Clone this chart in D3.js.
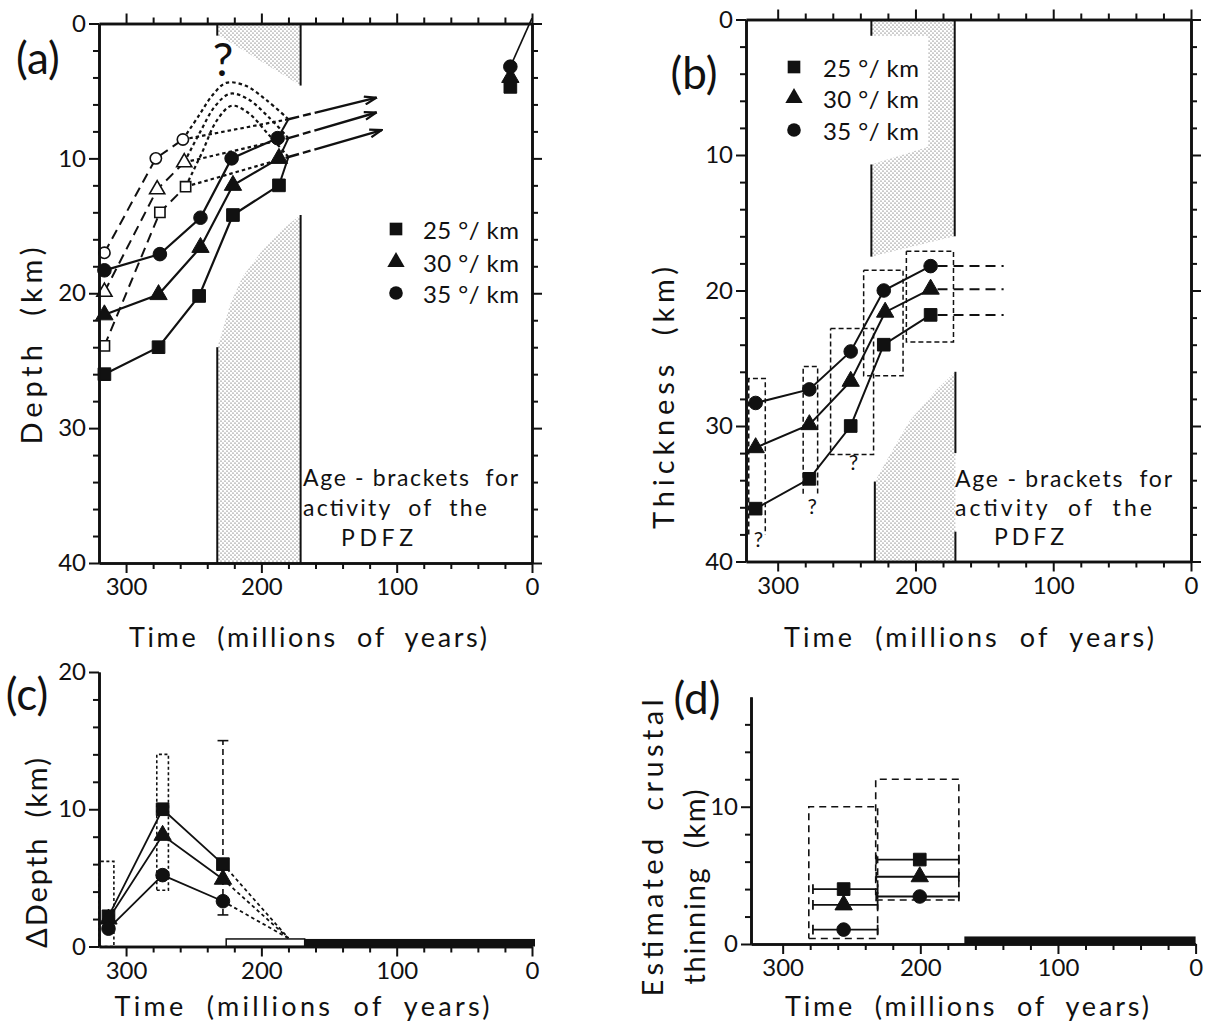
<!DOCTYPE html>
<html>
<head>
<meta charset="utf-8">
<script src="https://cdn.jsdelivr.net/npm/d3@7/dist/d3.min.js"></script>
<style>
  body { margin: 0; background: #fff; }
  svg text { font-family: Lato, "DejaVu Sans", sans-serif; fill: #111; }
</style>
</head>
<body>
<svg id="main" width="1208" height="1026"></svg>
<script>
// ---- data: [time (Ma), km] ----
const legendLabels = ["25 °/ km", "30 °/ km", "35 °/ km"];
const ageText = ["Age - brackets  for", "activity  of  the", "PDFZ"];
const timeTicks = [0, 100, 200, 300];

// (a) depth
const aSq25 = [[316, 26.0], [276, 24.0], [246, 20.2], [221, 14.2], [187, 12.0]];
const aTri30 = [[316, 21.6], [276, 20.1], [245, 16.6], [221, 12.0], [187, 10.0]];
const aCir35 = [[316, 18.3], [275, 17.1], [245, 14.4], [222, 10.0], [188, 8.5]];
const aOpenSq = [[316, 23.9], [275, 14.0], [256, 12.1]];
const aOpenTri = [[316, 19.9], [277, 12.3], [257, 10.3]];
const aOpenCir = [[316, 17.0], [278, 10.0], [258, 8.6]];
const aArrowFrom = [[180, 9.9], [180, 8.5], [180, 7.1]];   // sq, tri, cir
const aArrowTo = [[111, 7.9], [115, 6.6], [115, 5.5]];
const aCurveSq = [[256, 12.1], [244, 9.6], [233, 7.2], [222, 6.1], [210, 6.6], [195, 8.2], [180, 9.9]];
const aCurveTri = [[257, 10.3], [245, 8.0], [234, 6.1], [223, 5.2], [210, 5.6], [195, 6.9], [180, 8.5]];
const aCurveCir = [[258, 8.6], [246, 6.8], [236, 5.3], [226, 4.4], [212, 4.6], [196, 5.7], [180, 7.1]];
const aNowSq = [[16, 4.7]], aNowTri = [[16, 4.0]], aNowCir = [[16, 3.2]];
const aNowLine = [[16, 3.2], [0, -0.4]];
const aStippleTop = [[232.6, 0], [171, 0], [171, 4.6], [231, 0.9], [232.6, 0.9]];
const aStippleBot = [[171, 14.2], [185, 15.3], [200, 16.9], [214, 18.8], [223, 20.8], [230, 23.2], [232.6, 24], [232.6, 40], [171, 40]];
const aEdges = [[[232.6, 0], [232.6, 0.9]], [[171, 0], [171, 4.6]], [[232.6, 24], [232.6, 40]], [[171, 14.2], [171, 40]]];

// (b) thickness
const bSq25 = [[316, 36.1], [277, 33.9], [247, 30.0], [223, 24.0], [189, 21.8]];
const bTri30 = [[316, 31.6], [277, 29.9], [247, 26.7], [222, 21.6], [189, 19.9]];
const bCir35 = [[316, 28.3], [277, 27.3], [247, 24.5], [223, 20.0], [189, 18.2]];
const bExtendTo = 136;
const bBoxes = [[321, 309, 26.5, 38], [281.5, 271, 25.6, 35], [261.6, 230.4, 22.8, 32.1], [237.6, 209, 18.5, 26.3], [206.6, 172.4, 17.1, 23.8]];
const bBoxOpen = [true, true, false, false, false];
const bQuery = [[314, 38.3], [275, 35.9], [245, 32.6]];
const bStippleTop = [[232, 0], [171.5, 0], [171.5, 16.0], [232, 17.5], [232, 10.7], [190.7, 9.4], [190.7, 1.2], [232, 1.2]];
const bStippleBot = [[229.5, 40], [229.5, 34.1], [215, 31.5], [204, 29.6], [184.5, 27.3], [171, 26], [171, 40]];
const bEdges = [[[232, 0], [232, 1.2]], [[232, 10.7], [232, 17.5]], [[171.5, 0], [171.5, 16]], [[229.5, 34.1], [229.5, 40]], [[171, 26], [171, 32]], [[171, 37.8], [171, 40]]];

// (c) delta depth
const cSq25 = [[313, 2.2], [273, 10.0], [228.4, 6.0]];
const cTri30 = [[313, 2.0], [273, 8.1], [228.4, 4.9]];
const cCir35 = [[313, 1.3], [273, 5.2], [228.4, 3.3]];
const cConverge = [180, 0.6];
const cBoxes = [[320, 309, 0, 6.2], [277.3, 268.7, 4.1, 14.0]];
const cErr = [228.4, 2.3, 15.0];
const cBarOpen = [226, 168], cBarSolid = [168, 0], cBarH = 0.55;

// (d) crustal thinning
const dSq25 = [[255.7, 4.0], [200.4, 6.15]];
const dTri30 = [[255.7, 2.85], [200.4, 4.9]];
const dCir35 = [[255.7, 1.05], [200.4, 3.46]];
const dSpans = [[278, 231], [232, 172]];
const dBoxes = [[281, 231, 0.4, 10], [232.4, 172, 3.2, 12]];
const dBarSolid = [168, 0], dBarH = 0.55;

const svg = d3.select("#main");
const defs = svg.append("defs");
const pat = defs.append("pattern").attr("id", "dots")
  .attr("width", 4).attr("height", 4).attr("patternUnits", "userSpaceOnUse");
pat.append("circle").attr("cx", 1).attr("cy", 1).attr("r", 0.6).attr("fill", "#333");
pat.append("circle").attr("cx", 3).attr("cy", 3).attr("r", 0.6).attr("fill", "#333");
defs.append("marker").attr("id", "arrow")
  .attr("viewBox", "0 0 14 10").attr("refX", 13).attr("refY", 5)
  .attr("markerWidth", 14).attr("markerHeight", 10)
  .attr("markerUnits", "userSpaceOnUse").attr("orient", "auto")
  .append("path").attr("d", "M1,1 L13,5 L1,9")
  .attr("fill", "none").attr("stroke", "#111").attr("stroke-width", 2.2);

const sym = {
  sq: d3.symbol().type(d3.symbolSquare).size(160),
  tri: d3.symbol().type(d3.symbolTriangle).size(130),
  cir: d3.symbol().type(d3.symbolCircle).size(145),
  osq: d3.symbol().type(d3.symbolSquare).size(105),
  otri: d3.symbol().type(d3.symbolTriangle).size(100),
  ocir: d3.symbol().type(d3.symbolCircle).size(100)
};

function marks(g, data, x, y, kind) {
  const open = kind[0] == "o";
  g.selectAll(null).data(data).enter().append("path")
    .attr("d", sym[kind])
    .attr("transform", d => `translate(${x(d[0])},${y(d[1])})`)
    .attr("fill", open ? "#fff" : "#111")
    .attr("stroke", "#111").attr("stroke-width", open ? 1.6 : 1);
}

function line(g, pts, x, y, w, dash, curve) {
  const gen = d3.line().x(d => x(d[0])).y(d => y(d[1]));
  if (curve) gen.curve(curve);
  return g.append("path").attr("d", gen(pts))
    .attr("fill", "none").attr("stroke", "#111")
    .attr("stroke-width", w).attr("stroke-dasharray", dash);
}

function box(g, b, x, y, w, dash, open) {
  const [t0, t1, k0, k1] = b;
  const pts = open ? [[t0, k1], [t0, k0], [t1, k0], [t1, k1]]
                   : [[t0, k0], [t1, k0], [t1, k1], [t0, k1], [t0, k0]];
  line(g, pts, x, y, w, dash);
}

function stipple(g, pts, x, y) {
  g.append("path").attr("d", d3.line().x(d => x(d[0])).y(d => y(d[1]))(pts) + "Z")
    .attr("fill", "url(#dots)").attr("stroke", "none");
}

function axes(g, x, y, yMax, boxed) {
  const tMax = x.domain()[0];
  const tMinor = d3.range(20, tMax - 5, 20).filter(t => t % 100);
  const kMinor = d3.range(2, yMax, 2).filter(k => k % 10);
  const kMajor = d3.range(0, yMax + 0.5, 10);
  const yBottom = boxed ? y(yMax) : y(0);
  const put = (axis, tr) => {
    const a = g.append("g").attr("transform", tr).call(axis)
      .attr("font-family", null).attr("font-size", 24);
    a.selectAll("path").attr("stroke-width", 2.6).attr("stroke", "#111");
    a.selectAll("line").attr("stroke-width", 2).attr("stroke", "#111");
    return a;
  };
  const minorX = s => s.tickValues(tMinor).tickSize(6).tickSizeOuter(0).tickFormat("");
  const majorX = s => s.tickValues(timeTicks).tickSize(10).tickSizeOuter(0);
  const minorY = s => s.tickValues(kMinor).tickSize(6).tickSizeOuter(0).tickFormat("");
  const majorY = s => s.tickValues(kMajor).tickSize(10).tickSizeOuter(0);
  put(minorX(d3.axisBottom(x)), `translate(0,${yBottom})`);
  put(majorX(d3.axisBottom(x)).tickPadding(5), `translate(0,${yBottom})`);
  put(minorY(d3.axisLeft(y)), `translate(${x.range()[0]},0)`);
  put(majorY(d3.axisLeft(y)).tickPadding(3), `translate(${x.range()[0]},0)`);
  if (boxed) {
    put(minorX(d3.axisTop(x)), `translate(0,${y(0)})`);
    put(majorX(d3.axisTop(x)).tickFormat(""), `translate(0,${y(0)})`);
    put(minorY(d3.axisRight(y)), `translate(${x(0)},0)`);
    put(majorY(d3.axisRight(y)).tickFormat(""), `translate(${x(0)},0)`);
  }
}

function text(g, str, px, py, size, opt) {
  opt = opt || {};
  const t = g.append("text").text(str)
    .attr("font-size", size).attr("text-anchor", opt.anchor || "start")
    .attr("dominant-baseline", "central").style("white-space", "pre");
  if (opt.rotate) t.attr("transform", `translate(${px},${py}) rotate(-90)`);
  else t.attr("x", px).attr("y", py);
  if (opt.len) t.attr("textLength", opt.len).attr("lengthAdjust", "spacing");
  return t;
}

function legend(g, lx, tx, rows) {
  ["sq", "tri", "cir"].forEach((k, i) => {
    g.append("path").attr("d", sym[k]).attr("transform", `translate(${lx},${rows[i]})`).attr("fill", "#111");
    text(g, legendLabels[i], tx, rows[i], 24, {len: 96});
  });
}

// ================= (a) =================
const gA = svg.append("g");
const xA = d3.scaleLinear().domain([320, 0]).range([99, 532]);
const yA = d3.scaleLinear().domain([0, 40]).range([23.5, 563]);
stipple(gA, aStippleTop, xA, yA);
stipple(gA, aStippleBot, xA, yA);
aEdges.forEach(e => line(gA, e, xA, yA, 2));

[aOpenSq, aOpenTri, aOpenCir].forEach(s => line(gA, s, xA, yA, 2, "10,6"));
[aCurveSq, aCurveTri, aCurveCir].forEach(s => line(gA, s, xA, yA, 2.2, "3.5,3", d3.curveCatmullRom));
[aOpenSq, aOpenTri, aOpenCir].forEach((s, i) => line(gA, [s[2], aArrowFrom[i]], xA, yA, 2.2, "3.5,3"));
[aSq25, aTri30, aCir35].forEach((s, i) => {
  line(gA, s, xA, yA, 2.2);
  line(gA, [s[s.length - 1], aArrowFrom[i]], xA, yA, 2);
  line(gA, [aArrowFrom[i], aArrowTo[i]], xA, yA, 2.4, "11,4,8,4,400").attr("marker-end", "url(#arrow)");
});
line(gA, aNowLine, xA, yA, 1.6);
marks(gA, aOpenSq, xA, yA, "osq");
marks(gA, aOpenTri, xA, yA, "otri");
marks(gA, aOpenCir, xA, yA, "ocir");
marks(gA, aSq25, xA, yA, "sq");
marks(gA, aTri30, xA, yA, "tri");
marks(gA, aCir35, xA, yA, "cir");
marks(gA, aNowSq, xA, yA, "sq");
marks(gA, aNowTri, xA, yA, "tri");
marks(gA, aNowCir, xA, yA, "cir");
axes(gA, xA, yA, 40, true);

text(gA, "?", 223, 58, 46, {anchor: "middle"});
legend(gA, 396, 423, [229, 262, 293]);
ageText.forEach((s, i) => text(gA, s, i == 2 ? 341 : 303, 477 + i * 30, 23, {len: [215, 184, 72][i]}));
text(gA, "(a)", 38, 57, 44, {anchor: "middle"});
text(gA, "Time  (millions  of  years)", 308, 636, 27, {anchor: "middle", len: 358});
text(gA, "Depth  (km)", 30, 346, 29, {anchor: "middle", rotate: true, len: 197});

// ================= (b) =================
const gB = svg.append("g");
const xB = d3.scaleLinear().domain([323, 0]).range([746, 1191]);
const yB = d3.scaleLinear().domain([0, 40]).range([19.5, 561.5]);
stipple(gB, bStippleTop, xB, yB);
stipple(gB, bStippleBot, xB, yB);
bEdges.forEach(e => line(gB, e, xB, yB, 2));
bBoxes.forEach((b, i) => box(gB, b, xB, yB, 1.5, "5,3", bBoxOpen[i]));
[bSq25, bTri30, bCir35].forEach(s => {
  line(gB, s, xB, yB, 2);
  const last = s[s.length - 1];
  line(gB, [[last[0] - 5, last[1]], [bExtendTo, last[1]]], xB, yB, 2, "10,6");
});
marks(gB, bSq25, xB, yB, "sq");
marks(gB, bTri30, xB, yB, "tri");
marks(gB, bCir35, xB, yB, "cir");
axes(gB, xB, yB, 40, true);
bQuery.forEach(q => text(gB, "?", xB(q[0]), yB(q[1]), 21, {anchor: "middle"}));

legend(gB, 794, 823, [67, 98, 130]);
ageText.forEach((s, i) => text(gB, s, i == 2 ? 994 : 955, 478 + i * 29, 23, {len: [217, 197, 70][i]}));
text(gB, "(b)", 694, 72, 44, {anchor: "middle"});
text(gB, "Time  (millions  of  years)", 969, 636, 27, {anchor: "middle", len: 370});
text(gB, "Thickness  (km)", 662, 398, 29, {anchor: "middle", rotate: true, len: 262});

// ================= (c) =================
const gC = svg.append("g");
const xC = d3.scaleLinear().domain([320, 0]).range([99, 532]);
const yC = d3.scaleLinear().domain([0, 20]).range([946.5, 672]);
cBoxes.forEach(b => box(gC, b, xC, yC, 1.6, "3,2.5"));
line(gC, [[cErr[0], cErr[1]], [cErr[0], cErr[2]]], xC, yC, 1.6, "6,4");
[cErr[1], cErr[2]].forEach(k => line(gC, [[cErr[0] + 4, k], [cErr[0] - 4, k]], xC, yC, 1.6));
[cSq25, cTri30, cCir35].forEach(s => {
  line(gC, s, xC, yC, 1.8);
  line(gC, [s[s.length - 1], cConverge], xC, yC, 1.8, "3.5,3");
});
gC.append("rect").attr("x", xC(cBarOpen[0])).attr("y", yC(cBarH))
  .attr("width", xC(cBarOpen[1]) - xC(cBarOpen[0])).attr("height", yC(0) - yC(cBarH))
  .attr("fill", "#fff").attr("stroke", "#111").attr("stroke-width", 1.5);
gC.append("rect").attr("x", xC(cBarSolid[0])).attr("y", yC(cBarH))
  .attr("width", xC(cBarSolid[1]) + 3 - xC(cBarSolid[0])).attr("height", yC(0) - yC(cBarH))
  .attr("fill", "#111");
marks(gC, cSq25, xC, yC, "sq");
marks(gC, cTri30, xC, yC, "tri");
marks(gC, cCir35, xC, yC, "cir");
axes(gC, xC, yC, 20, false);
text(gC, "(c)", 27, 693, 44, {anchor: "middle"});
text(gC, "Time  (millions  of  years)", 302, 1005, 27, {anchor: "middle", len: 375});
text(gC, "ΔDepth  (km)", 35, 853, 29, {anchor: "middle", rotate: true, len: 190});

// ================= (d) =================
const gD = svg.append("g");
const xD = d3.scaleLinear().domain([323, 0]).range([751, 1195.6]);
const yD = d3.scaleLinear().domain([0, 18]).range([944, 696.9]);
dBoxes.forEach(b => box(gD, b, xD, yD, 1.6, "7,5"));
[dSq25, dTri30, dCir35].forEach(s => {
  s.forEach((p, i) => {
    const [t0, t1] = dSpans[i];
    line(gD, [[t0, p[1]], [t1, p[1]]], xD, yD, 1.8);
    [t0, t1].forEach(t => line(gD, [[t, p[1] - 0.35], [t, p[1] + 0.35]], xD, yD, 1.8));
  });
});
gD.append("rect").attr("x", xD(dBarSolid[0])).attr("y", yD(dBarH))
  .attr("width", xD(dBarSolid[1]) - xD(dBarSolid[0])).attr("height", yD(0) - yD(dBarH))
  .attr("fill", "#111");
marks(gD, dSq25, xD, yD, "sq");
marks(gD, dTri30, xD, yD, "tri");
marks(gD, dCir35, xD, yD, "cir");
axes(gD, xD, yD, 18, false);
text(gD, "(d)", 697, 697, 44, {anchor: "middle"});
text(gD, "Time  (millions  of  years)", 967, 1005, 27, {anchor: "middle", len: 364});
text(gD, "Estimated  crustal", 651, 848, 29, {anchor: "middle", rotate: true, len: 297});
text(gD, "thinning  (km)", 693, 887, 29, {anchor: "middle", rotate: true, len: 195});
</script>
</body>
</html>
